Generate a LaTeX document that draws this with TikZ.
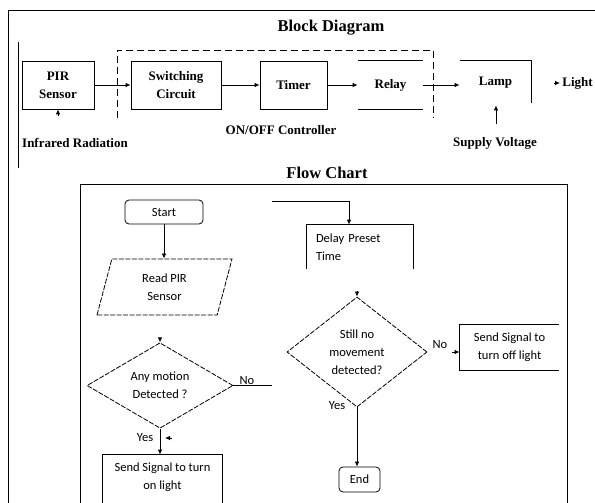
\documentclass[tikz,border=0pt]{standalone}
\usepackage{fontspec}
\newfontfamily\bdserif{Liberation Serif}
\newfontfamily\fcsans{Carlito}
\usepackage{tikz}
\usetikzlibrary{calc}
\usetikzlibrary{positioning}
\usetikzlibrary{shapes.geometric}
\usetikzlibrary{arrows.meta}

\begin{document}
\begin{tikzpicture}[x=1pt, y=-1pt, line width=.8pt,
        arr/.style={-{Latex[length=5pt,width=4.5pt]}},
        blk/.style={font=\bdserif\bfseries\fontsize{13}{18}\selectfont, align=center, minimum height=48pt, inner sep=0pt},
        box/.style={blk, draw},
        lbl/.style={blk, minimum height=0pt, inner sep=1pt},
        ttl/.style={font=\bdserif\bfseries\fontsize{16.5}{20}\selectfont},
        fc/.style={font=\fcsans\fontsize{12.5}{18}\selectfont, align=center, inner sep=0pt},
        term/.style={fc, draw, rounded corners=4pt},
        brk/.style={dash pattern=on 5pt off 1.5pt},
        ask/.style={fc, draw, diamond, brk},
        io/.style={fc, draw, brk, trapezium, trapezium left angle=61, trapezium right angle=119, trapezium stretches body}]
\useasboundingbox (0,0) rectangle (595,503);

\draw (8,503) |- (595,10);
\draw (18,42) -- (18,168);
\draw (80,503) |- (567,184) -- (567,503);
\coordinate (fc bottom) at (0,503);

\node[ttl] (bdtitle) at (331,28) {Block Diagram};
\node[box, minimum width=72pt] (pir) at (58,85) {PIR\\Sensor};
\node[box, minimum width=90pt] (switch) at (176,85) {Switching\\Circuit};
\node[box, minimum width=67pt] (timer) at (293.5,85) {Timer};
\node[blk, minimum width=65pt] (relay) at (390.5,85) {Relay};
\node[blk, minimum width=71pt, minimum height=44pt] (lamp) at (495.5,83) {Lamp};
\node[lbl, inner sep=2pt, anchor=west] (light) at (560,83) {Light};
\node[lbl] (infra) at (75,143) {Infrared Radiation};
\node[lbl] (onoff) at (281,130) {ON/OFF Controller};
\node[lbl] (supply) at (495,143) {Supply Voltage};
\coordinate (ir tail) at (58,116);
\coordinate (supply tail) at (496,124);
\coordinate (light tail) at (554,83);

\draw (relay.north west) -- (relay.north east) (relay.south west) -- (relay.south east);
\draw (lamp.north west) -| ($(lamp.south east)+(0,-2)$);
\draw[dash pattern=on 7pt off 4pt] (117,118) |- (433,50) -- (433,118);

\draw[arr] (pir) -- (switch);
\draw[arr] (switch) -- (timer);
\draw[arr] (timer) -- (relay);
\draw[arr] (relay.east) -- (relay.east -| lamp.west);
\draw[arr] (light tail) -- (light.west);
\draw[arr] (ir tail) -- (pir.south);
\draw[arr] (supply tail) -- (supply tail |- lamp.south);

\node[ttl] (fctitle) at (327,173) {Flow Chart};
\node[term, minimum width=78pt, minimum height=24pt] (start) at (164,212) {Start};
\node[io, minimum width=135pt, minimum height=56pt] (read) at (164.5,287) {Read PIR\\Sensor};
\node[ask, minimum width=146pt, minimum height=75pt] (motion) at (160,385.5) {Any motion\\Detected ?};
\node[fc, minimum width=119pt, minimum height=44pt] (onsig) at (162.5,477) {Send Signal to turn\\on light};
\node[fc, align=left, text width=88pt, inner xsep=9pt, minimum height=44pt] (delay) at (360,247) {Delay Preset\\Time};
\node[ask, minimum width=140pt, minimum height=110pt] (still) at (357,352) {Still no\\movement\\detected?};
\node[fc, minimum width=99pt, minimum height=45pt] (offsig) at (509.5,347.5) {Send Signal to\\turn off light};
\node[term, minimum width=41pt, minimum height=25pt] (end) at (359.5,479.5) {End};
\node[fc] (motion yes) at (145,438) {Yes};
\node[fc] (still no) at (440,345) {No};
\node[fc] (still yes) at (337,406) {Yes};
\coordinate (motion tail) at (160,340);
\coordinate (no turn) at (272,385.5);
\coordinate (loop top) at (272,201);
\coordinate (still tail) at (357,291);
\coordinate (no tail) at (452,352);
\coordinate (yes tail) at (172,438);
\coordinate (yes tip) at (165,438);

\draw (delay.south west) |- (delay.north east) -- (delay.south east);
\draw (offsig.north east) -| (offsig.south west) -- (offsig.south east);
\draw (onsig.west |- fc bottom) |- (onsig.north east) -- (onsig.east |- fc bottom);

\draw[arr] (start.south) -- (start.south |- read.north);
\draw[arr] (motion tail) -- (motion.north);
\draw (motion.east) -- node[fc, above=1pt, pos=.35] {No} (no turn);
\draw[arr] (loop top) -| ($(delay.north)+(-11,0)$);
\draw[arr] (still tail) -- (still.north);
\draw[arr] (no tail) -- (no tail -| offsig.west);
\draw[arr] (still.south) -- (still.south |- end.north);
\draw[arr] (motion.south) -- (motion.south |- onsig.north);
\draw[arr] (yes tail) -- (yes tip);
\end{tikzpicture}
\end{document}
